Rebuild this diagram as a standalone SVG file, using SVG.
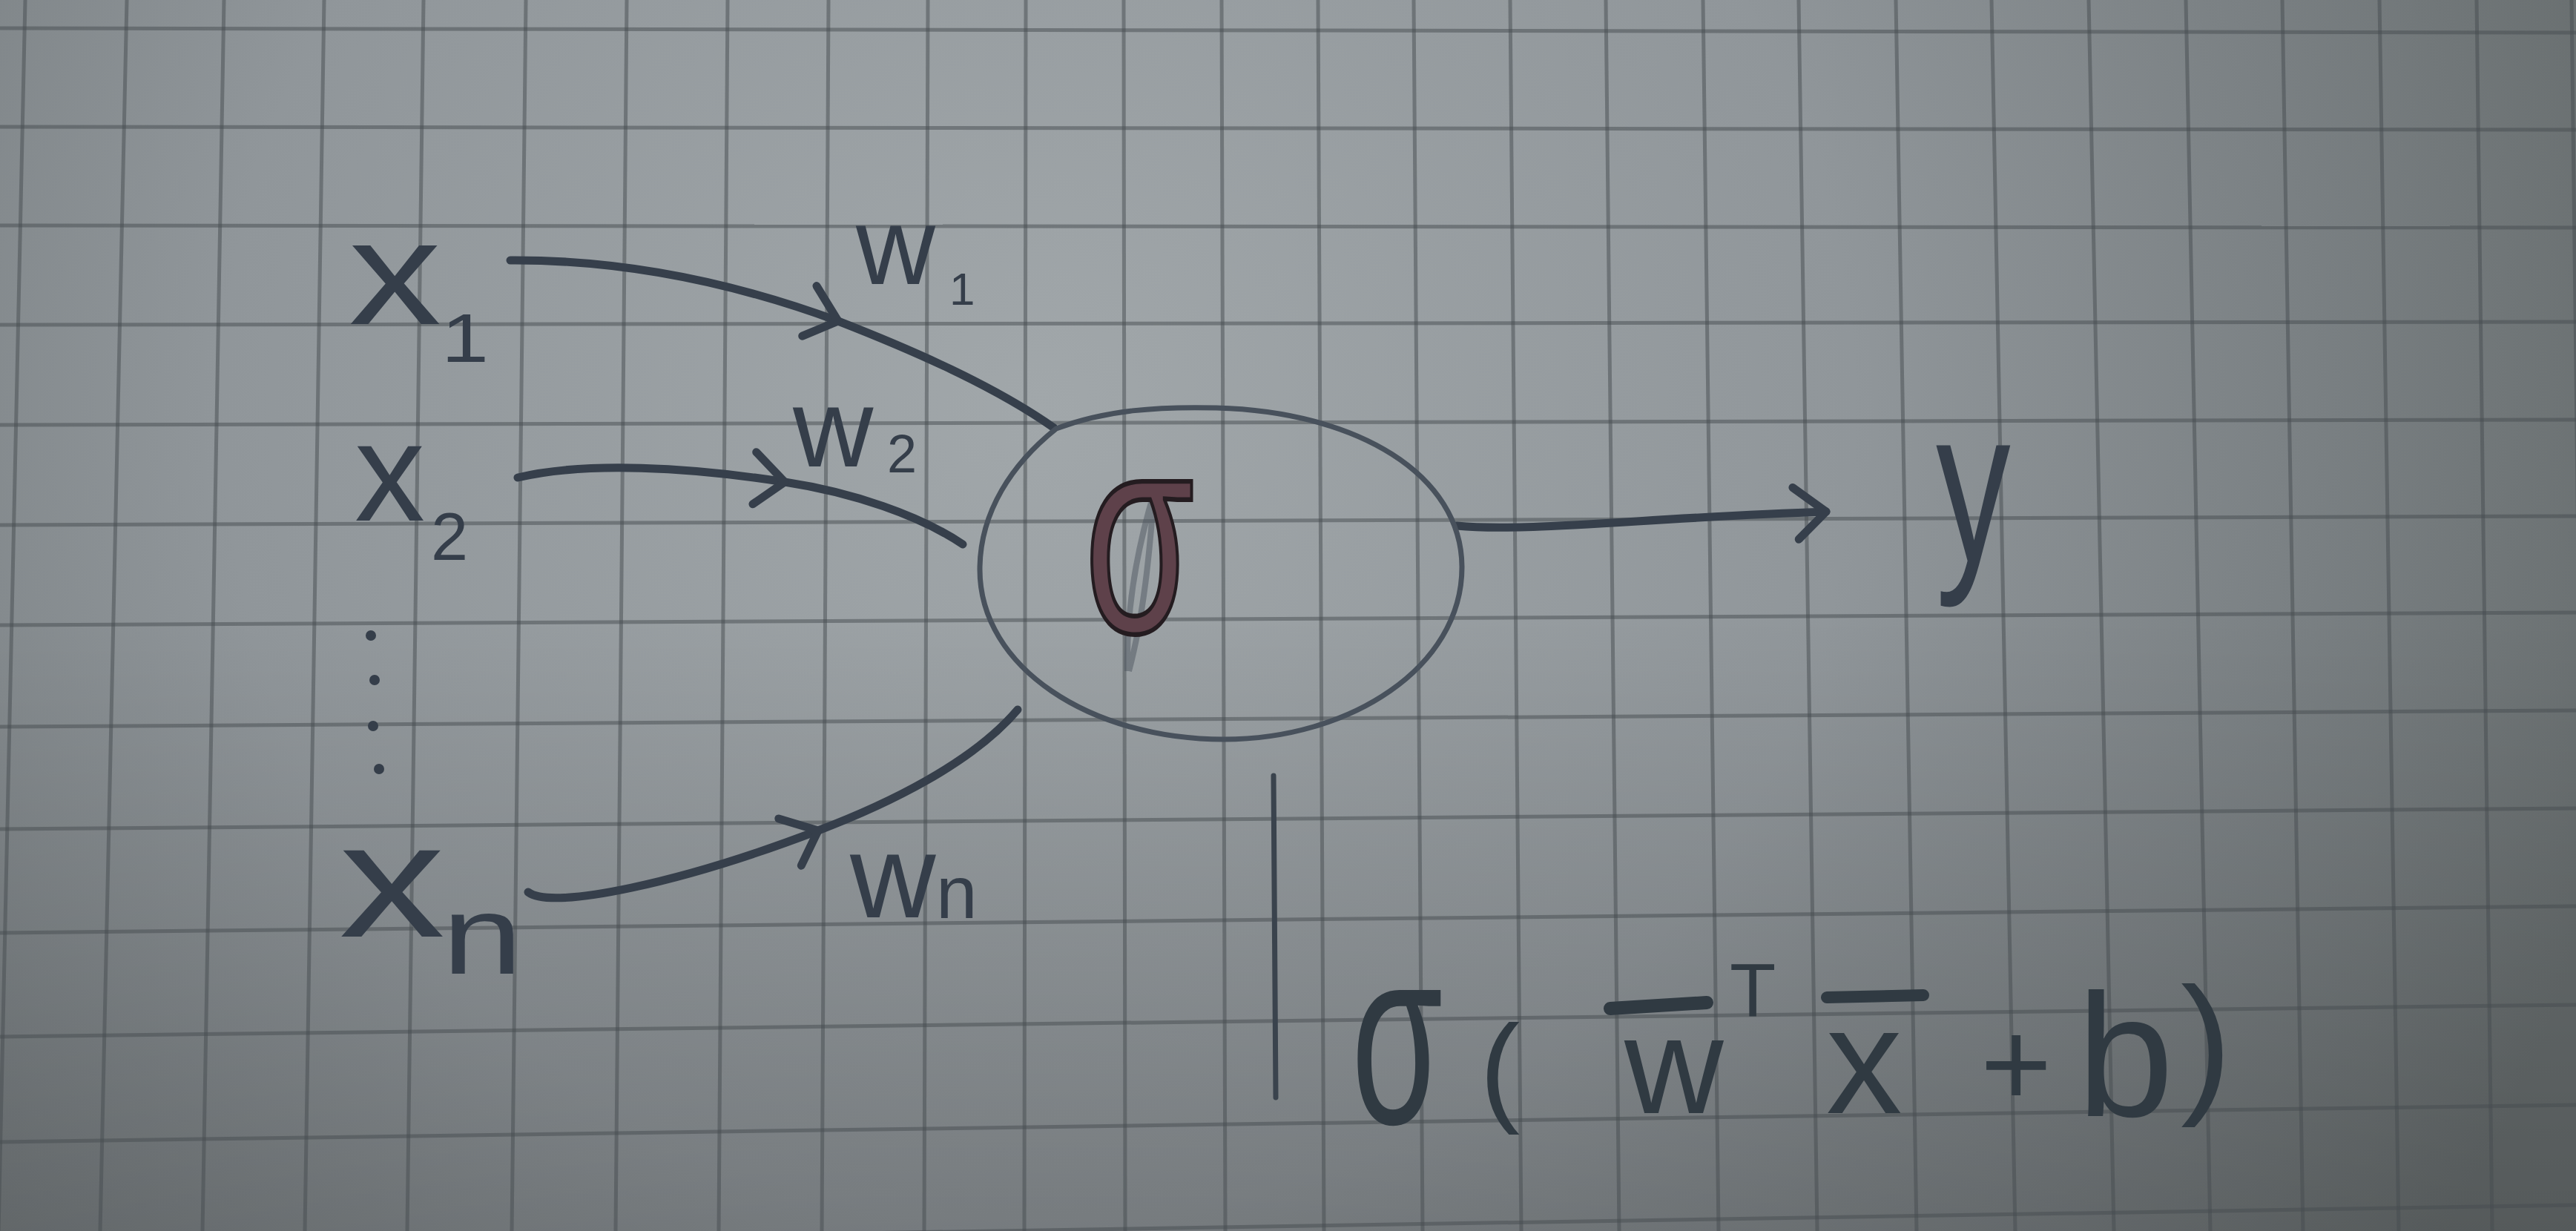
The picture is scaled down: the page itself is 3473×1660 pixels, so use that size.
<svg xmlns="http://www.w3.org/2000/svg" width="3473" height="1660" viewBox="0 0 3473 1660">
<defs>
<style>
.ink{fill:#353e4a;font-family:"Liberation Sans","DejaVu Sans",Arial,sans-serif;}
.formula{fill:#303a42;font-family:"Liberation Sans","DejaVu Sans",Arial,sans-serif;}
.conn{fill:none;stroke:#363f4b;stroke-width:11;stroke-linecap:round;stroke-linejoin:round;}
.grid line{stroke:#454c50;stroke-opacity:0.5;stroke-width:5;}
.sigma{fill:#5e414a;stroke:#241c20;stroke-width:4;font-family:"Liberation Sans","DejaVu Sans",Arial,sans-serif;}
</style>
<radialGradient id="paperGrad" gradientUnits="userSpaceOnUse" cx="1400" cy="550" r="2200">
<stop offset="0" stop-color="#a1a7aa"/>
<stop offset="0.5" stop-color="#90969a"/>
<stop offset="0.78" stop-color="#7a8083"/>
<stop offset="1" stop-color="#686e6f"/>
</radialGradient>
<linearGradient id="shade" x1="0" y1="0" x2="0" y2="1">
<stop offset="0" stop-color="#000" stop-opacity="0"/>
<stop offset="0.5" stop-color="#000" stop-opacity="0"/>
<stop offset="1" stop-color="#000" stop-opacity="0.18"/>
</linearGradient>
<marker id="chev" markerUnits="userSpaceOnUse" viewBox="-60 -60 120 120" refX="0" refY="0" markerWidth="120" markerHeight="120" orient="auto" overflow="visible">
<path d="M-44,-34 L0,0 L-38,36" fill="none" stroke="#363f4b" stroke-width="11" stroke-linecap="round" stroke-linejoin="round"/>
</marker>
</defs>

<g id="paper">
<rect x="0" y="0" width="3473" height="1660" fill="url(#paperGrad)"/>
<rect x="0" y="0" width="3473" height="1660" fill="url(#shade)"/>
<g class="grid">
<line x1="34" y1="0" x2="-2" y2="1660"/>
<line x1="171" y1="0" x2="135" y2="1660"/>
<line x1="302" y1="0" x2="273" y2="1660"/>
<line x1="437" y1="0" x2="411" y2="1660"/>
<line x1="571" y1="0" x2="549" y2="1660"/>
<line x1="709" y1="0" x2="690" y2="1660"/>
<line x1="845" y1="0" x2="830" y2="1660"/>
<line x1="981" y1="0" x2="969" y2="1660"/>
<line x1="1117" y1="0" x2="1108" y2="1660"/>
<line x1="1251" y1="0" x2="1246" y2="1660"/>
<line x1="1383" y1="0" x2="1381" y2="1660"/>
<line x1="1515" y1="0" x2="1517" y2="1660"/>
<line x1="1647" y1="0" x2="1652" y2="1660"/>
<line x1="1777" y1="0" x2="1785" y2="1660"/>
<line x1="1906" y1="0" x2="1918" y2="1660"/>
<line x1="2036" y1="0" x2="2051" y2="1660"/>
<line x1="2165" y1="0" x2="2183" y2="1660"/>
<line x1="2296" y1="0" x2="2317" y2="1660"/>
<line x1="2425" y1="0" x2="2450" y2="1660"/>
<line x1="2556" y1="0" x2="2584" y2="1660"/>
<line x1="2685" y1="0" x2="2717" y2="1660"/>
<line x1="2816" y1="0" x2="2850" y2="1660"/>
<line x1="2947" y1="0" x2="2980" y2="1660"/>
<line x1="3077" y1="0" x2="3105" y2="1660"/>
<line x1="3208" y1="0" x2="3234" y2="1660"/>
<line x1="3339" y1="0" x2="3360" y2="1660"/>
<line x1="3467" y1="0" x2="3487" y2="1660"/>
<line x1="0" y1="38" x2="3473" y2="44"/>
<line x1="0" y1="171" x2="3473" y2="175"/>
<line x1="0" y1="304" x2="3473" y2="307"/>
<line x1="0" y1="438" x2="3473" y2="434"/>
<line x1="0" y1="573" x2="3473" y2="566"/>
<line x1="0" y1="708" x2="3473" y2="696"/>
<line x1="0" y1="843" x2="3473" y2="826"/>
<line x1="0" y1="980" x2="3473" y2="958"/>
<line x1="0" y1="1118" x2="3473" y2="1090"/>
<line x1="0" y1="1258" x2="3473" y2="1222"/>
<line x1="0" y1="1398" x2="3473" y2="1355"/>
<line x1="0" y1="1540" x2="3473" y2="1490"/>
<line x1="0" y1="1682" x2="3473" y2="1625"/>
</g>
</g>

<g id="connectors">
<path class="conn" marker-mid="url(#chev)" d="M688,351 C850,350 1000,385 1130,433 C1230,472 1340,520 1421,577"/>
<path class="conn" marker-mid="url(#chev)" d="M698,644 C790,622 930,630 1058,650 C1150,664 1240,695 1298,734"/>
<path class="conn" marker-mid="url(#chev)" d="M712,1203 C745,1228 920,1190 1103,1120 C1195,1085 1310,1030 1372,957"/>
<path class="conn" stroke-width="12" marker-end="url(#chev)" d="M1964,709 C2060,718 2220,698 2462,690"/>
</g>

<g id="node-x1">
<text class="ink" transform="translate(470,437) scale(1.25,1)" font-size="200">x<tspan x="100" y="51" font-size="92">1</tspan></text>
</g>
<g id="node-x2">
<text class="ink" x="478" y="702" font-size="190">x<tspan x="581" y="755" font-size="90">2</tspan></text>
</g>
<g id="node-dots">
<circle cx="500" cy="857" r="7" fill="#353e4a"/>
<circle cx="505" cy="917" r="7" fill="#353e4a"/>
<circle cx="503" cy="979" r="7" fill="#353e4a"/>
<circle cx="511" cy="1037" r="7" fill="#353e4a"/>
</g>
<g id="node-xn">
<text class="ink" transform="translate(457,1263) scale(1.3,1)" font-size="220">x<tspan x="107" y="50" font-size="150">n</tspan></text>
</g>
<g id="label-w1">
<text class="ink" x="1154" y="383" font-size="148">w<tspan x="1280" y="411" font-size="62">1</tspan></text>
</g>
<g id="label-w2">
<text class="ink" x="1069" y="629" font-size="150">w<tspan x="1196" y="637" font-size="72">2</tspan></text>
</g>
<g id="label-wn">
<text class="ink" x="1146" y="1237" font-size="160">w<tspan x="1262" y="1238" font-size="100">n</tspan></text>
</g>

<g id="node-neuron">
<path d="M1424,578 C1490,553 1560,548 1640,550 C1830,555 1971,640 1971,765 C1971,900 1820,997 1650,997 C1470,997 1321,900 1321,768 C1321,690 1365,625 1424,578 Z" fill="none" stroke="#48515c" stroke-width="7"/>
<path d="M1556,664 C1536,730 1518,815 1520,905 M1556,664 C1550,745 1542,830 1522,905" fill="none" stroke="#4e5660" stroke-width="8" stroke-opacity="0.5"/>
<text class="sigma" transform="translate(1462,852) scale(1,1.6)" font-size="240">σ</text>
</g>

<g id="node-y">
<text class="ink" transform="translate(2610,757) scale(0.68,1)" font-size="296">y</text>
</g>

<g id="formula">
<line x1="1717" y1="1046" x2="1720" y2="1480" stroke="#3a434d" stroke-width="7" stroke-linecap="round"/>
<text class="formula" transform="translate(1822,1515) scale(0.85,1.45)" font-size="235">σ</text>
<text class="formula"><tspan x="1995" y="1496" font-size="163">(</tspan><tspan x="2190" y="1501" font-size="185">w</tspan><tspan x="2332" y="1371" font-size="102">T</tspan><tspan x="2462" y="1501" font-size="205">x</tspan><tspan x="2670" y="1492" font-size="165">+</tspan><tspan x="2800" y="1505" font-size="235">b</tspan><tspan x="2940" y="1477" font-size="207">)</tspan></text>
<line x1="2171" y1="1360" x2="2301" y2="1352" stroke="#303a42" stroke-width="18" stroke-linecap="round"/>
<line x1="2463" y1="1345" x2="2593" y2="1342" stroke="#303a42" stroke-width="16" stroke-linecap="round"/>
</g>
</svg>
